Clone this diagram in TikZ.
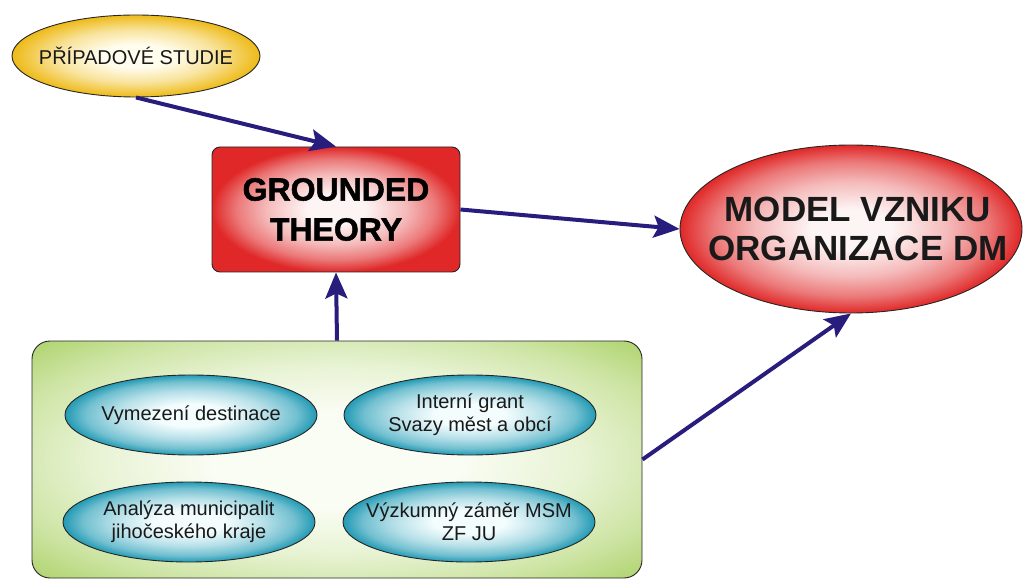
\documentclass[tikz,border=0pt]{standalone}
\usepackage{fontspec}
\setmainfont{Liberation Sans}
\newfontfamily\heavyfont{Liberation Sans}[BoldFeatures={FakeBold=1.6}]
\usetikzlibrary{shapes.geometric,arrows.meta}

\definecolor{arrowblue}{RGB}{40,28,125}
\definecolor{goldfill}{RGB}{238,186,24}
\definecolor{goldcore}{RGB}{255,253,238}
\definecolor{redfill}{RGB}{224,40,40}
\definecolor{redcore}{RGB}{253,244,244}
\definecolor{greenfill}{RGB}{176,212,112}
\definecolor{greencore}{RGB}{250,253,244}
\definecolor{tealfill}{RGB}{34,154,180}
\definecolor{tealcore}{RGB}{244,253,254}

% radial glows: pale core fading out to the rim colour
\pgfdeclareradialshading{goldglow}{\pgfpoint{0bp}{0bp}}{%
  color(0bp)=(goldcore); color(7bp)=(goldcore);
  color(16bp)=(goldcore!62!goldfill); color(25bp)=(goldfill); color(50bp)=(goldfill)}
\pgfdeclareradialshading{redglow}{\pgfpoint{0bp}{0bp}}{%
  color(0bp)=(redcore); color(6bp)=(redcore);
  color(14bp)=(redcore!72!redfill); color(20bp)=(redcore!40!redfill);
  color(25bp)=(redfill); color(50bp)=(redfill)}
\pgfdeclareradialshading{greenglow}{\pgfpoint{0bp}{0bp}}{%
  color(0bp)=(greencore); color(10bp)=(greencore);
  color(20bp)=(greencore!75!greenfill); color(28bp)=(greencore!40!greenfill);
  color(35bp)=(greenfill); color(50bp)=(greenfill)}
\pgfdeclareradialshading{tealglow}{\pgfpoint{0bp}{0bp}}{%
  color(0bp)=(tealcore); color(7bp)=(tealcore);
  color(15bp)=(tealcore!70!tealfill); color(21bp)=(tealcore!38!tealfill);
  color(25bp)=(tealfill); color(50bp)=(tealfill)}

\tikzset{
  outline/.style={draw=black!85, line width=0.9pt},
  goldell/.style={outline, ellipse, inner sep=0pt, shading=goldglow},
  redell/.style={outline, ellipse, inner sep=0pt, shading=redglow},
  theorybox/.style={outline, rectangle, rounded corners=8pt, inner sep=0pt,
    shading=redglow, align=center,
    font=\heavyfont\bfseries\fontsize{32}{40}\selectfont},
  sourcebox/.style={outline, rectangle, rounded corners=18pt, inner sep=0pt,
    shading=greenglow},
  tealell/.style={outline, ellipse, inner sep=0pt, shading=tealglow,
    minimum width=252pt, minimum height=80pt},
  smalltext/.style={font=\fontsize{20}{23}\selectfont, align=center, text=black!90},
  flow/.style={draw=arrowblue, line width=4pt,
    -{Stealth[length=26pt, width=22pt, inset=5pt]}},
}

\begin{document}
\begin{tikzpicture}[x=1pt, y=-1pt]
\useasboundingbox (0,0) rectangle (1023,580);

% case studies
\node[goldell, minimum width=248pt, minimum height=82pt,
  label={[font=\fontsize{20}{22}\selectfont, text=black!90]center:PŘÍPADOVÉ STUDIE}]
  (cases) at (136,56) {};

% central method
\node[theorybox, minimum width=248pt, minimum height=125pt]
  (gt) at (336,209.5) {GROUNDED\\THEORY};

% resulting model
\node[redell, minimum width=342pt, minimum height=168pt,
  label={[font=\bfseries\fontsize{35}{39}\selectfont, align=center, text=black!90, xshift=7pt]center:MODEL VZNIKU\\ORGANIZACE DM}]
  (model) at (851,229) {};

% inputs
\node[sourcebox, minimum width=610pt, minimum height=237pt] (src) at (337,459.5) {};
\node[tealell, label={[smalltext]center:Vymezení destinace}] (dest) at (191,415) {};
\node[tealell, label={[smalltext]center:Interní grant\\Svazy měst a obcí}] (grant) at (470,415) {};
\node[tealell, label={[smalltext]center:Analýza municipalit\\jihočeského kraje}] (muni) at (189,522) {};
\node[tealell, label={[smalltext]center:Výzkumný záměr MSM\\ZF JU}] (msm) at (469,522) {};

% connectors
\draw[flow] (cases.south) -- (gt.north);
\draw[flow] (gt.east) -- (model.west);
\draw[flow] (src.north) -- (gt.south);
\draw[flow] (src.east) -- (model.south);
\end{tikzpicture}
\end{document}
